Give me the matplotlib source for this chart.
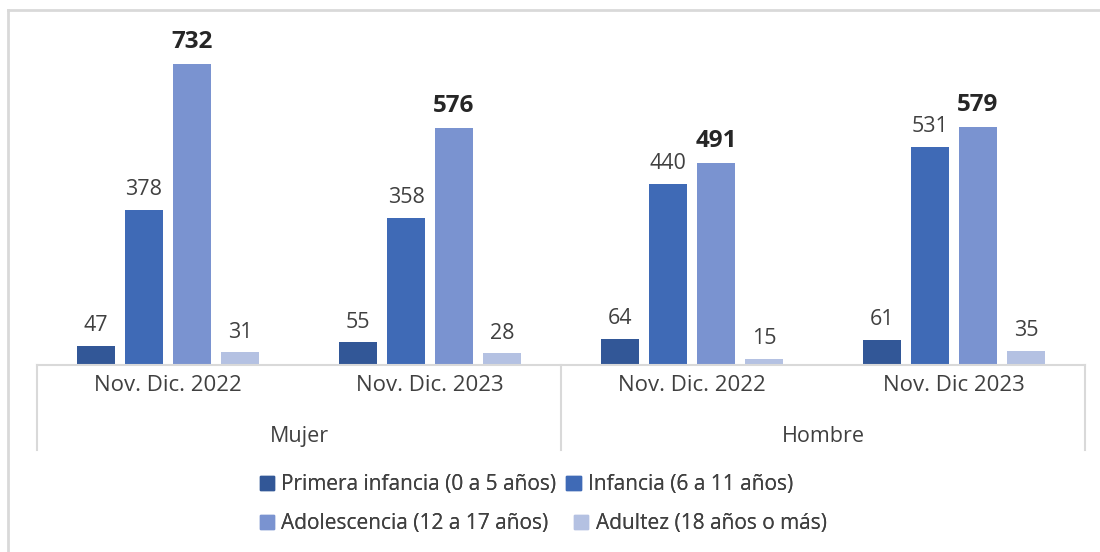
import matplotlib.pyplot as plt
import matplotlib.transforms as mtransforms
from matplotlib.lines import Line2D
from matplotlib.patches import Patch
import numpy as np

plt.rcParams['font.family'] = ['Open Sans', 'DejaVu Sans']

# data
periods = ["Nov. Dic. 2022", "Nov. Dic. 2023", "Nov. Dic. 2022", "Nov. Dic 2023"]
groups = ["Mujer", "Hombre"]
series = ["Primera infancia (0 a 5 años)", "Infancia (6 a 11 años)",
          "Adolescencia (12 a 17 años)", "Adultez (18 años o más)"]
primera_infancia = [47, 55, 64, 61]
infancia = [378, 358, 440, 531]
adolescencia = [732, 576, 491, 579]
adultez = [31, 28, 15, 35]

colors = ["#325797", "#3F6AB6", "#7A93D0", "#B4C1E2"]
text_color = "#404040"
line_color = "#D9D9D9"

values = np.array([primera_infancia, infancia, adolescencia, adultez])

fig = plt.figure(figsize=(11, 5.52), dpi=100)
ax = fig.add_axes([37 / 1100, 187 / 552, 1048 / 1100, 345 / 552])

x = np.arange(len(periods))
step = 0.183
width = 0.142
group_max = values.max(axis=0)

for i, (name, vals) in enumerate(zip(series, values)):
    pos = x + (i - 1.5) * step
    ax.bar(pos, vals, width, color=colors[i], label=name, zorder=2)
    for xp, v, m in zip(pos, vals, group_max):
        bold = v == m
        ax.annotate(str(v), (xp, v), xytext=(0, 7), textcoords="offset points",
                    ha="center", va="bottom",
                    fontsize=17.5 if bold else 15.5,
                    fontweight="bold" if bold else "normal",
                    color="#262626" if bold else text_color)

ax.set_xlim(-0.5, 3.5)
ax.set_ylim(0, 839)
ax.set_yticks([])
ax.set_xticks(x)
ax.set_xticklabels(periods, fontsize=16, color=text_color)
ax.tick_params(axis="x", length=0, pad=7)
for s in ["top", "right", "left"]:
    ax.spines[s].set_visible(False)
ax.spines["bottom"].set_color(line_color)
ax.spines["bottom"].set_linewidth(1.5)

# second level of the category axis
trans = mtransforms.blended_transform_factory(ax.transData, ax.transAxes)
for gx, g in zip([0.5, 2.5], groups):
    ax.text(gx, -0.206, g, transform=trans, ha="center", va="center",
            fontsize=15.5, color=text_color)
for sx in [-0.5, 1.5, 3.5]:
    ax.plot([sx, sx], [0, -0.247], transform=trans, color=line_color,
            lw=1.5, clip_on=False)

# legend in two rows, like the original flow layout
handles = [Patch(color=c) for c in colors]
for row, (ypos, gap) in enumerate([(0.122, 0.45), (0.051, 1.2)]):
    leg = fig.legend(handles[2 * row:2 * row + 2], series[2 * row:2 * row + 2],
                     loc="center left", bbox_to_anchor=(0.236, ypos), ncol=2,
                     frameon=False, fontsize=15, handlelength=0.7,
                     handleheight=0.7, handletextpad=0.35, columnspacing=gap,
                     borderpad=0, borderaxespad=0)
    for t in leg.get_texts():
        t.set_color(text_color)
    fig.add_artist(leg)

# chart border (top and left edges visible)
fig.add_artist(Line2D([8 / 1100, 1], [542 / 552, 542 / 552], color=line_color, lw=2))
fig.add_artist(Line2D([8 / 1100, 8 / 1100], [0, 542 / 552], color=line_color, lw=2))

fig.savefig("out.png", dpi=100)
